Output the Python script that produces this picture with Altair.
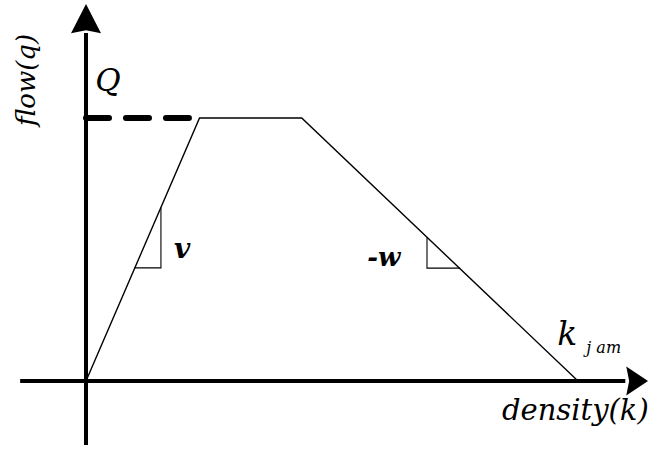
import altair as alt
import pandas as pd

# Trapezoidal fundamental diagram: flow q against density k
K_BREAKS = [0, 30, 57, 130]          # 0, critical density, end of capacity plateau, k_jam
Q_BREAKS = [0, 2000, 2000, 0]        # flow at each break point (capacity Q = 2000)

# dashed capacity marker from the flow axis towards the curve
DASH_K = [0, 27.2]
DASH_Q = [2000, 2000]

# slope triangles for free-flow speed v and wave speed -w
V_TRI_K = [12.9, 19.8, 19.8]
V_TRI_Q = [860, 860, 1320]
W_TRI_K = [90.1, 90.1, 98.8]
W_TRI_Q = [1090, 858, 858]

# axis extents (data units)
X_AXIS_K = [-17.4, 142.5]
Y_AXIS_Q = [-487, 2646]
X_ARROW_TIP = (148.5, 0)
Y_ARROW_TIP = (0, 2867)

PX_PER_K = 492 / 130
PX_PER_Q = 263 / 2000
W, H = 649, 452
X_DOMAIN = [-86 / PX_PER_K, (W - 86) / PX_PER_K]
Y_DOMAIN = [-(H - 381) / PX_PER_Q, 381 / PX_PER_Q]

SERIF = "DejaVu Serif"

xs = alt.Scale(domain=X_DOMAIN, nice=False, zero=False)
ys = alt.Scale(domain=Y_DOMAIN, nice=False, zero=False)


def xy():
    return dict(
        x=alt.X("k:Q", scale=xs, axis=None),
        y=alt.Y("q:Q", scale=ys, axis=None),
    )


def label(k, q, text, size, weight="normal", align="left", baseline="alphabetic", angle=0):
    return alt.Chart(pd.DataFrame({"k": [k], "q": [q], "text": [text]})).mark_text(
        font=SERIF, fontStyle="italic", fontSize=size, fontWeight=weight,
        align=align, baseline=baseline, angle=angle, color="black"
    ).encode(text="text:N", **xy())


curve = alt.Chart(pd.DataFrame({"k": K_BREAKS, "q": Q_BREAKS, "i": range(4)})).mark_line(
    color="black", strokeWidth=1.4
).encode(order="i:O", **xy())

dash = alt.Chart(pd.DataFrame({"k": DASH_K, "q": DASH_Q})).mark_line(
    color="black", strokeWidth=6, strokeDash=[23, 17], strokeCap="round"
).encode(**xy())

tri = pd.DataFrame({
    "k": V_TRI_K + W_TRI_K,
    "q": V_TRI_Q + W_TRI_Q,
    "g": ["v"] * 3 + ["w"] * 3,
    "i": [0, 1, 2] * 2,
})
triangles = alt.Chart(tri).mark_line(color="black", strokeWidth=1.1).encode(
    detail="g:N", order="i:O", **xy()
)

xaxis = alt.Chart(pd.DataFrame({"k": X_AXIS_K, "q": [0, 0]})).mark_line(
    color="black", strokeWidth=4
).encode(**xy())
yaxis = alt.Chart(pd.DataFrame({"k": [0, 0], "q": Y_AXIS_Q})).mark_line(
    color="black", strokeWidth=4
).encode(**xy())

up_head = alt.Chart(pd.DataFrame({"k": [Y_ARROW_TIP[0]], "q": [Y_ARROW_TIP[1]]})).mark_point(
    shape="M0,0L1,1.95L0,1.75L-1,1.95Z", size=900, filled=True, color="black", opacity=1, strokeWidth=0
).encode(**xy())
right_head = alt.Chart(pd.DataFrame({"k": [X_ARROW_TIP[0]], "q": [X_ARROW_TIP[1]]})).mark_point(
    shape="M0,0L-1.5,-1L-1.3,0L-1.5,1Z", size=841, filled=True, color="black", opacity=1, strokeWidth=0
).encode(**xy())

layers = [
    curve, dash, triangles, xaxis, yaxis, up_head, right_head,
    label(5.8, 2274, "Q", 31, align="center", baseline="middle"),
    label(25.4, 998, "v", 28, weight="bold", align="center", baseline="middle"),
    label(78.7, 935, "-w", 26, weight="bold", align="center", baseline="middle"),
    label(124.5, 274, "k", 33),
    label(132.2, 213, "j am", 16),
    label(109.9, -297, "density(k)", 29),
    label(-15.6, 2289, "flow(q)", 26, align="center", baseline="middle", angle=270),
]

chart = alt.layer(*layers).properties(
    width=W, height=H, padding=0, autosize=alt.AutoSizeParams(type="none"),
    background="white",
).configure_view(stroke=None)

chart.save("out.html", embed_options={"renderer": "svg", "actions": False})
